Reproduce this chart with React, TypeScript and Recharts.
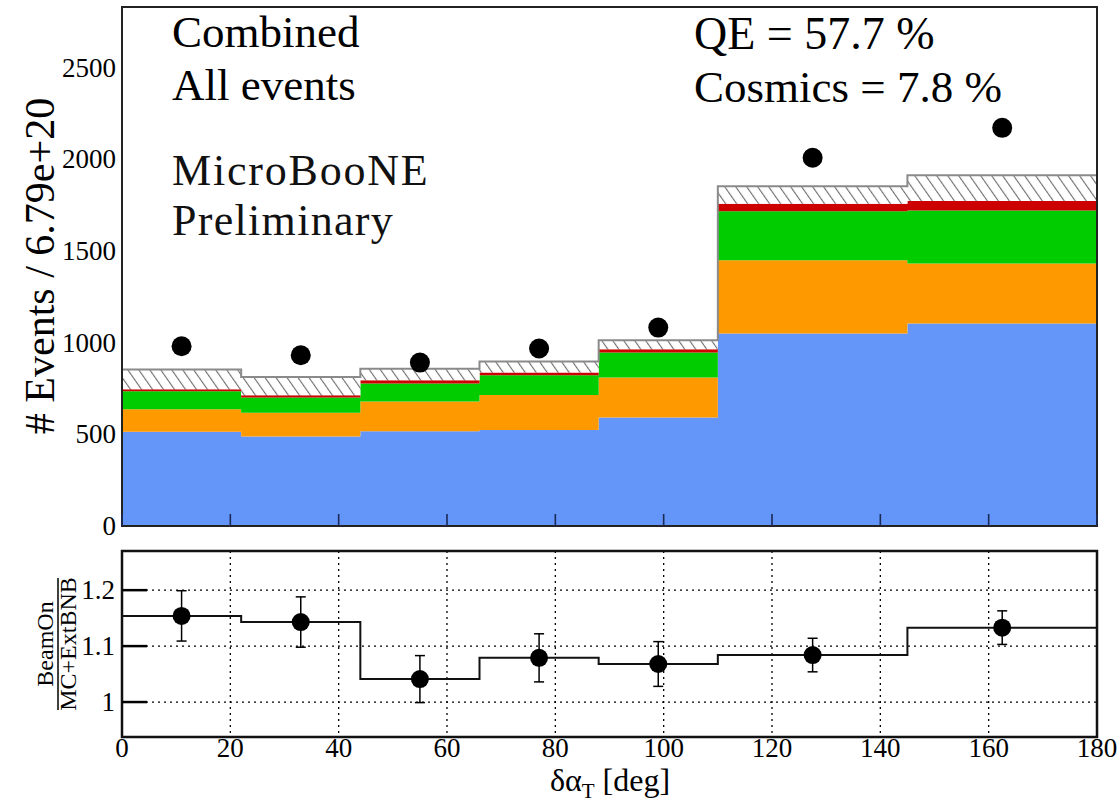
import React from 'react';
import {
  ComposedChart,
  Area,
  Line,
  Scatter,
  XAxis,
  YAxis,
  CartesianGrid,
  ReferenceArea,
  ErrorBar,
} from 'recharts';

// Binning in delta alpha_T (degrees); bins are not uniform
const binEdges = [0, 22, 44, 66, 88, 110, 145, 180];

// Stacked simulation components per bin (events / 6.79e+20 POT)
const qeEvents = [514, 488, 517, 523, 592, 1049, 1104];
const mecEvents = [123, 129, 162, 192, 218, 400, 327];
const resEvents = [98, 84, 98, 107, 136, 267, 290];
const otherEvents = [11, 12, 18, 15, 18, 41, 51];
const cosmicEvents = [107, 100, 62, 60, 49, 95, 140];

// Beam-on data per bin
const beamOnEvents = [980, 931, 891, 968, 1082, 2008, 2171];

// BeamOn / (MC + ExtBNB) ratio and its uncertainty per bin
const ratioValues = [1.154, 1.143, 1.041, 1.079, 1.068, 1.084, 1.133];
const ratioErrors = [0.045, 0.045, 0.042, 0.043, 0.04, 0.03, 0.03];

const xTicks = [0, 20, 40, 60, 80, 100, 120, 140, 160, 180];
const yTicksTop = [0, 500, 1000, 1500, 2000, 2500];
const yTicksRatio = [1, 1.1, 1.2];

const TOP_MAX = 2830;
const RATIO_MIN = 0.9375;
const RATIO_MAX = 1.27;

const FONT = "'Liberation Serif', 'Times New Roman', serif";

const nBins = binEdges.length - 1;

// One row per bin edge; the last edge repeats the last bin so stepAfter closes the histogram
const stackRows = binEdges.map((x, i) => {
  const b = Math.min(i, nBins - 1);
  return {
    x,
    qe: qeEvents[b],
    mec: mecEvents[b],
    res: resEvents[b],
    other: otherEvents[b],
    cosmic: cosmicEvents[b],
  };
});

const ratioRows = binEdges.map((x, i) => ({ x, ratio: ratioValues[Math.min(i, nBins - 1)] }));

const binCenters = binEdges.slice(0, -1).map((e, i) => (e + binEdges[i + 1]) / 2);
const dataPoints = binCenters.map((x, i) => ({ x, y: beamOnEvents[i] }));
const ratioPoints = binCenters.map((x, i) => ({ x, r: ratioValues[i], err: ratioErrors[i] }));

const dot = (r: number) => (props: any) => (
  <circle cx={props.cx} cy={props.cy} r={r} fill="#000" />
);

// Tick renderers: ROOT-style ticks point into the frame
const TopXTick = (props: any) => (
  <line x1={props.x} x2={props.x} y1={props.y} y2={props.y - 12} stroke="#1a2a55" strokeWidth={1.6} />
);

const TopYTick = (props: any) => (
  <text x={props.x - 6} y={props.y} dy={9} textAnchor="end" fontSize={27} fontFamily={FONT} fill="#000">
    {props.payload.value}
  </text>
);

const RatioXTick = (props: any) => (
  <text x={props.x} y={props.y} dy={20} textAnchor="middle" fontSize={27} fontFamily={FONT} fill="#000">
    {props.payload.value}
  </text>
);

const RatioYTick = (props: any) => (
  <g>
    <line x1={props.x} x2={props.x + 25} y1={props.y} y2={props.y} stroke="#000" strokeWidth={2.5} />
    <text x={props.x - 7} y={props.y} dy={9} textAnchor="end" fontSize={27} fontFamily={FONT} fill="#000">
      {props.payload.value}
    </text>
  </g>
);

export default function App() {
  return (
    <div
      style={{
        position: 'absolute',
        left: 0,
        top: 0,
        width: 1120,
        height: 803,
        background: '#fff',
        overflow: 'hidden',
        fontFamily: FONT,
      }}
    >
      <svg width={0} height={0} style={{ position: 'absolute' }}>
        <defs>
          <pattern
            id="cosmicHatch"
            width={9}
            height={9}
            patternUnits="userSpaceOnUse"
            patternTransform="rotate(-35)"
          >
            <rect width={9} height={9} fill="#fff" />
            <line x1={0} y1={0} x2={0} y2={9} stroke="#6e6e6e" strokeWidth={2.2} />
          </pattern>
        </defs>
      </svg>

      {/* Event-count panel */}
      <div style={{ position: 'absolute', left: 0, top: 0 }}>
        <ComposedChart
          width={1120}
          height={540}
          data={stackRows}
          margin={{ top: 7, right: 23, bottom: 0, left: 42 }}
        >
          <Area type="stepAfter" dataKey="qe" stackId="mc" stroke="none" fill="#6495f9" fillOpacity={1} isAnimationActive={false} />
          <Area type="stepAfter" dataKey="mec" stackId="mc" stroke="none" fill="#ff9900" fillOpacity={1} isAnimationActive={false} />
          <Area type="stepAfter" dataKey="res" stackId="mc" stroke="none" fill="#00cc00" fillOpacity={1} isAnimationActive={false} />
          <Area type="stepAfter" dataKey="other" stackId="mc" stroke="none" fill="#cc0000" fillOpacity={1} isAnimationActive={false} />
          <Area type="stepAfter" dataKey="cosmic" stackId="mc" stroke="#8a8a8a" strokeWidth={2} fill="url(#cosmicHatch)" fillOpacity={1} isAnimationActive={false} />
          <Scatter data={dataPoints} dataKey="y" shape={dot(10)} isAnimationActive={false} />
          <XAxis
            type="number"
            dataKey="x"
            domain={[0, 180]}
            ticks={xTicks}
            interval={0}
            tick={<TopXTick />}
            tickSize={0}
            tickMargin={0}
            height={14}
            axisLine={false}
            tickLine={false}
            allowDataOverflow
          />
          <YAxis
            type="number"
            domain={[0, TOP_MAX]}
            ticks={yTicksTop}
            interval={0}
            width={80}
            axisLine={false}
            tickLine={false}
            tickSize={0}
            tickMargin={0}
            tick={<TopYTick />}
            allowDataOverflow
          />
          <ReferenceArea x1={0} x2={180} y1={0} y2={TOP_MAX} fill="none" stroke="#222" strokeWidth={2} />
        </ComposedChart>
      </div>

      {/* Ratio panel */}
      <div style={{ position: 'absolute', left: 0, top: 540 }}>
        <ComposedChart
          width={1120}
          height={263}
          data={ratioRows}
          margin={{ top: 11, right: 23, bottom: 0, left: 42 }}
        >
          <CartesianGrid stroke="#000" strokeWidth={1.3} strokeDasharray="2 4" />
          <Line type="stepAfter" dataKey="ratio" stroke="#111" strokeWidth={2} dot={false} isAnimationActive={false} />
          <Scatter data={ratioPoints} dataKey="r" shape={dot(9)} isAnimationActive={false}>
            <ErrorBar dataKey="err" direction="y" width={5} stroke="#000" strokeWidth={1.5} />
          </Scatter>
          <XAxis
            type="number"
            dataKey="x"
            domain={[0, 180]}
            ticks={xTicks}
            interval={0}
            height={66}
            axisLine={false}
            tickLine={false}
            tickSize={0}
            tickMargin={0}
            tick={<RatioXTick />}
            allowDataOverflow
          />
          <YAxis
            type="number"
            domain={[RATIO_MIN, RATIO_MAX]}
            ticks={yTicksRatio}
            interval={0}
            width={80}
            axisLine={false}
            tickLine={false}
            tickSize={0}
            tickMargin={0}
            tick={<RatioYTick />}
            allowDataOverflow
          />
          <ReferenceArea x1={0} x2={180} y1={RATIO_MIN} y2={RATIO_MAX} fill="none" stroke="#111" strokeWidth={2.5} />
        </ComposedChart>
      </div>

      {/* Titles and annotations */}
      <svg
        width={1120}
        height={803}
        style={{ position: 'absolute', left: 0, top: 0, pointerEvents: 'none' }}
        fontFamily={FONT}
      >
        <text x={172} y={47} fontSize={45} fill="#000">Combined</text>
        <text x={172} y={100} fontSize={45} fill="#000">All events</text>
        <text x={172} y={185} fontSize={44} fill="#111" letterSpacing={1.8}>MicroBooNE</text>
        <text x={172} y={235} fontSize={44} fill="#111" letterSpacing={1.3}>Preliminary</text>
        <text x={694} y={49} fontSize={46} fill="#000">QE = 57.7 %</text>
        <text x={694} y={102} fontSize={45} fill="#000">Cosmics = 7.8 %</text>

        <text
          transform="translate(54,266) rotate(-90)"
          textAnchor="middle"
          fontSize={42}
          fill="#000"
        >
          # Events / 6.79e+20
        </text>

        <g transform="translate(58,644) rotate(-90)">
          <text x={0} y={-5} textAnchor="middle" fontSize={24} fill="#000">BeamOn</text>
          <line x1={-66} x2={66} y1={0} y2={0} stroke="#000" strokeWidth={1.5} />
          <text x={0} y={18} textAnchor="middle" fontSize={24} fill="#000">MC+ExtBNB</text>
        </g>

        <text x={610} y={791} textAnchor="middle" fontSize={32} fill="#000">
          δα<tspan fontSize={21} dy={7}>T</tspan>
          <tspan dy={-7}> [deg]</tspan>
        </text>
      </svg>
    </div>
  );
}
